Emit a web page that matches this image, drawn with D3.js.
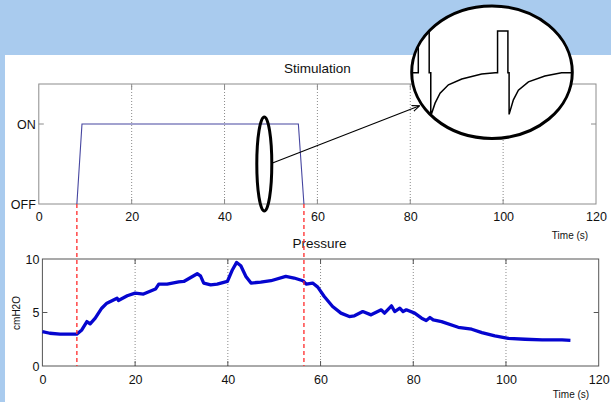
<!DOCTYPE html>
<html>
<head>
<meta charset="utf-8">
<script src="https://cdn.jsdelivr.net/npm/d3@7"></script>
<style>
body { margin: 0; background: #fff; }
svg { display: block; }
text { font-family: "Liberation Sans", Arial, Helvetica, sans-serif; fill: #111; }
</style>
</head>
<body>
<svg width="611" height="402"></svg>
<script>
// ---- data ----
var xTicks = [0, 20, 40, 60, 80, 100, 120];
var stimTicks = [0, 1];
var stimTickLabels = ["OFF", "ON"];
var pressureTicks = [0, 5, 10];

var stimTime  = [8.2, 9.3, 55.9, 57.1];
var stimState = [0,   1,   1,    0];

var markerTimes = [8.2, 57.1];

var pressureTime = [0, 1.6, 3.8, 7.4, 8.5, 9.6, 10.3, 11.4, 12.8, 13.9, 16.1, 16.4, 18.3, 20, 21.8, 24.4, 25.1, 26.9,
  29.4, 30.5, 33.4, 34.1, 34.8, 36.3, 37.7, 39.9, 41, 41.9, 42.8, 43.9, 45, 47.1, 49.3, 52.5, 54.3, 56.2,
  56.9, 58.3, 59.4, 60.8, 62.6, 64.4, 66.2, 67.3, 69.1, 70.9, 73.1, 73.8, 75.3, 76, 77.1, 77.8, 78.5,
  80.3, 81.8, 82.8, 83.6, 84.3, 86.1, 89.7, 92.6, 94.8, 97.6, 100.5, 104.1, 107.8, 112.1, 113.9];
var pressureValue = [3.21, 3.06, 2.97, 2.97, 3.37, 4.15, 3.94, 4.47, 5.4, 5.87, 6.34, 6.12, 6.56, 6.81, 6.72, 7.19, 7.66, 7.66,
  7.87, 7.9, 8.62, 8.43, 7.75, 7.59, 7.66, 7.9, 9.0, 9.68, 9.37, 8.37, 7.75, 7.84, 7.97, 8.37, 8.22, 7.97,
  7.66, 7.75, 7.37, 6.5, 5.56, 4.94, 4.62, 4.69, 5.09, 4.78, 5.25, 4.94, 5.62, 5.09, 5.4, 5.09, 5.25,
  4.94, 4.47, 4.25, 4.53, 4.31, 4.15, 3.62, 3.44, 3.12, 2.81, 2.59, 2.5, 2.44, 2.44, 2.4];

// zoomed inset: one stimulation pulse train (ms, relative level)
var insetTime  = [0, 8.3, 8.3, 22, 22, 24, 24, 29.4, 35.7, 46.2, 63, 88, 105, 108, 108, 121, 121, 122.5, 122.5,
  127.9, 134.2, 146.8, 167.5, 188.5, 202];
var insetLevel = [0, 0, 1, 1, 0, 0, -1.04, -0.73, -0.49, -0.29, -0.15, -0.03, 0, 0, 1, 1, 0, 0, -1.0,
  -0.65, -0.42, -0.22, -0.08, 0, 0];

// ---- drawing ----
var svg = d3.select("svg");

// slide background
svg.append("rect").attr("width", 611).attr("height", 402).attr("fill", "#a9cbee");
svg.append("rect").attr("x", 5).attr("y", 55).attr("width", 606).attr("height", 347).attr("fill", "#fff");

var xTop = d3.scaleLinear().domain([0, 120]).range([38.8, 596]);
var yTop = d3.scaleLinear().domain([0, 1.5]).range([204, 84]);
var xBot = d3.scaleLinear().domain([0, 120]).range([42.4, 598.7]);
var yBot = d3.scaleLinear().domain([0, 10]).range([366, 259]);

function panel(x, y, yTickVals, yFmt, boxColor, labelPad) {
  var g = svg.append("g");
  var x0 = x.range()[0], x1 = x.range()[1], y0 = y.range()[0], y1 = y.range()[1];

  // dotted grid
  g.selectAll("line.grid").data(xTicks.slice(1, -1)).enter().append("line")
    .attr("x1", function(d) { return x(d); }).attr("x2", function(d) { return x(d); })
    .attr("y1", y0).attr("y2", y1)
    .attr("stroke", "#8a8a8a").attr("stroke-width", 1).attr("stroke-dasharray", "1,2");

  // inner ticks (matlab style)
  g.selectAll("line.tb").data(xTicks.slice(1, -1)).enter().append("path")
    .attr("d", function(d) { return "M" + x(d) + "," + y0 + "v-5M" + x(d) + "," + y1 + "v5"; })
    .attr("stroke", boxColor);
  g.selectAll("line.lr").data(yTickVals.slice(1, -1).concat(yTickVals.length == 2 ? [yTickVals[1]] : [])).enter().append("path")
    .attr("d", function(d) { return "M" + x0 + "," + y(d) + "h5M" + x1 + "," + y(d) + "h-5"; })
    .attr("stroke", boxColor);

  g.append("rect").attr("x", x0).attr("y", y1).attr("width", x1 - x0).attr("height", y0 - y1)
    .attr("fill", "none").attr("stroke", boxColor).attr("stroke-width", 1);

  var ax = g.append("g").attr("transform", "translate(0," + y0 + ")")
    .call(d3.axisBottom(x).tickValues(xTicks).tickSize(0).tickPadding(labelPad));
  var ay = g.append("g").attr("transform", "translate(" + x0 + ",0)")
    .call(d3.axisLeft(y).tickValues(yTickVals).tickFormat(yFmt).tickSize(0).tickPadding(3));
  [ax, ay].forEach(function(a) {
    a.select(".domain").remove();
    a.selectAll("text").attr("font-size", "12.5px").attr("fill", "#111")
      .style("font-family", "'Liberation Sans', Arial, sans-serif");
  });
  return g;
}

panel(xTop, yTop, stimTicks, function(d, i) { return stimTickLabels[i]; }, "#8c8c8c", 8);
panel(xBot, yBot, pressureTicks, d3.format("d"), "#555", 9.5);

// titles and axis labels
svg.append("text").attr("x", 317.5).attr("y", 73).attr("text-anchor", "middle")
  .attr("font-size", "13.5px").text("Stimulation");
svg.append("text").attr("x", 319.5).attr("y", 248).attr("text-anchor", "middle")
  .attr("font-size", "13.5px").text("Pressure");
svg.append("text").attr("x", 570).attr("y", 238.5).attr("text-anchor", "middle")
  .attr("font-size", "10px").text("Time (s)");
svg.append("text").attr("x", 571).attr("y", 397.5).attr("text-anchor", "middle")
  .attr("font-size", "10px").text("Time (s)");
svg.append("text").attr("transform", "translate(20,313) rotate(-90)").attr("text-anchor", "middle")
  .attr("font-size", "10px").text("cmH2O");

// stimulation trace
var stimLine = d3.line().x(function(d, i) { return xTop(stimTime[i]); })
  .y(function(d) { return yTop(d); });
svg.append("path").datum(stimState).attr("d", stimLine)
  .attr("fill", "none").attr("stroke", "#4646a0").attr("stroke-width", 1.1);

// pressure trace
var pLine = d3.line().x(function(d, i) { return xBot(pressureTime[i]); })
  .y(function(d) { return yBot(d); });
svg.append("path").datum(pressureValue).attr("d", pLine)
  .attr("fill", "none").attr("stroke", "#0505cf").attr("stroke-width", 3.3)
  .attr("stroke-linejoin", "round");

// red onset / offset markers
svg.selectAll("line.marker").data(markerTimes).enter().append("line")
  .attr("x1", function(d) { return xTop(d); }).attr("x2", function(d) { return xTop(d); })
  .attr("y1", yTop(0)).attr("y2", yBot(0))
  .attr("stroke", "#ff2a2a").attr("stroke-width", 1.3).attr("stroke-dasharray", "4,3");

// small ellipse around the ON plateau
svg.append("ellipse").attr("cx", 264.3).attr("cy", 164).attr("rx", 7.5).attr("ry", 47)
  .attr("fill", "none").attr("stroke", "#000").attr("stroke-width", 3);

// arrow to the zoom
svg.append("defs").append("marker").attr("id", "arr").attr("viewBox", "0 0 10 10")
  .attr("refX", 9).attr("refY", 5).attr("markerWidth", 7).attr("markerHeight", 7).attr("orient", "auto")
  .append("path").attr("d", "M0,1L10,5L0,9").attr("fill", "none").attr("stroke", "#000").attr("stroke-width", 1.4);
svg.append("line").attr("x1", 272.5).attr("y1", 163).attr("x2", 419).attr("y2", 106)
  .attr("stroke", "#000").attr("stroke-width", 1.1).attr("marker-end", "url(#arr)");

// inset zoom
var cx = 492, cy = 72.2, rx = 80.3, ry = 66.2;
svg.select("defs").append("clipPath").attr("id", "insetClip")
  .append("ellipse").attr("cx", cx).attr("cy", cy).attr("rx", rx).attr("ry", ry);
var xIn = d3.scaleLinear().domain([0, 202]).range([cx - rx, cx + rx]);
var yIn = d3.scaleLinear().domain([0, 1]).range([72.7, 31]);
svg.append("ellipse").attr("cx", cx).attr("cy", cy).attr("rx", rx).attr("ry", ry).attr("fill", "#fff");
svg.append("path").datum(insetLevel)
  .attr("d", d3.line().x(function(d, i) { return xIn(insetTime[i]); }).y(function(d) { return yIn(d); }))
  .attr("clip-path", "url(#insetClip)")
  .attr("fill", "none").attr("stroke", "#000").attr("stroke-width", 1.5);
svg.append("ellipse").attr("cx", cx).attr("cy", cy).attr("rx", rx).attr("ry", ry)
  .attr("fill", "none").attr("stroke", "#000").attr("stroke-width", 3);
</script>
</body>
</html>
